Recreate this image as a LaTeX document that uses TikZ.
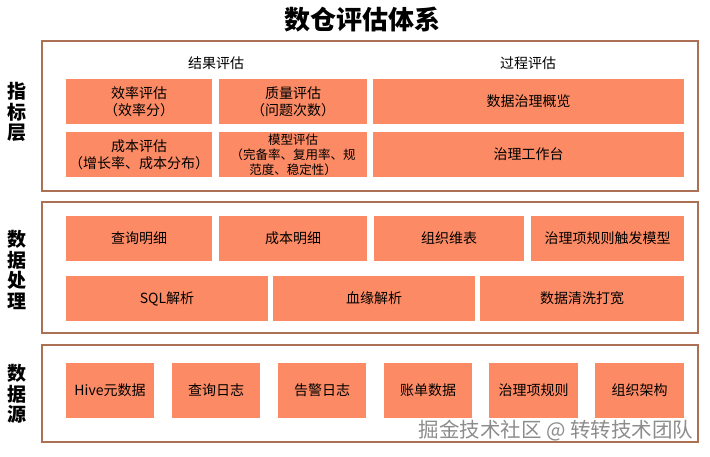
\documentclass[tikz,border=0pt]{standalone}
\usepackage{fontspec}
\newfontfamily\cjk{Noto Sans CJK SC}
\usepackage{tikz}
\usetikzlibrary{positioning}
\usepackage{xcolor}
\definecolor{boxc}{RGB}{252,138,100}
\definecolor{framec}{RGB}{172,112,84}

\begin{document}
\begin{tikzpicture}[x=1pt,y=-1pt,
    box/.style={fill=boxc,inner sep=0pt,align=center,font=\cjk\fontsize{14}{17}\selectfont},
    panel/.style={draw=framec,line width=1.8pt},
    side/.style={align=center,font=\cjk\bfseries\fontsize{19}{20.5}\selectfont},
    grp/.style={font=\cjk\fontsize{14}{17}\selectfont}]
    \useasboundingbox (0,0) rectangle (710,457);
    % title
    \node[font=\cjk\bfseries\fontsize{26}{28}\selectfont] (title) at (362,20) {数仓评估体系};
    % 指标层
    \draw[panel] (42,41) rectangle (698,191);
    \node[side] (zbc) at (17,112) {指\\标\\层};
    \node[grp] (jg) at (216,63) {结果评估};
    \node[grp] (gc) at (528,63) {过程评估};
    \node[box,minimum width=146pt,minimum height=45pt] (xl) at (139,101.5) {效率评估\\（效率分）};
    \node[box,minimum width=148pt,minimum height=45pt] (zl) at (293,101.5) {质量评估\\（问题次数）};
    \node[box,minimum width=311pt,minimum height=45pt] (gl) at (528.5,101.5) {数据治理概览};
    \node[box,minimum width=146pt,minimum height=45pt] (cb) at (139,154.5) {成本评估\\（增长率、成本分布）};
    \node[box,minimum width=148pt,minimum height=45pt,font=\cjk\fontsize{12.5}{15}\selectfont] (mx) at (293,154.5) {模型评估\\（完备率、复用率、规\\范度、稳定性）};
    \node[box,minimum width=311pt,minimum height=45pt] (gzt) at (528.5,154.5) {治理工作台};
    % 数据处理
    \draw[panel] (42,202) rectangle (698,333);
    \node[side] (clc) at (17,270) {数\\据\\处\\理};
    \node[box,minimum width=146pt,minimum height=45pt] (cxmx) at (139,238.5) {查询明细};
    \node[box,minimum width=148pt,minimum height=45pt] (cbmx) at (293,238.5) {成本明细};
    \node[box,minimum width=150pt,minimum height=45pt] (zzwb) at (449,238.5) {组织维表};
    \node[box,minimum width=153pt,minimum height=45pt] (cfmx) at (607.5,238.5) {治理项规则触发模型};
    \node[box,minimum width=202pt,minimum height=45pt] (sql) at (167,298.5) {SQL解析};
    \node[box,minimum width=202pt,minimum height=45pt] (xy) at (374,298.5) {血缘解析};
    \node[box,minimum width=204pt,minimum height=45pt] (qx) at (582,298.5) {数据清洗打宽};
    % 数据源
    \draw[panel] (42,345) rectangle (698,442);
    \node[side] (syc) at (17,394) {数\\据\\源};
    \node[box,minimum width=88pt,minimum height=55pt] (hive) at (110,390.5) {Hive元数据};
    \node[box,minimum width=88pt,minimum height=55pt] (cxrz) at (216,390.5) {查询日志};
    \node[box,minimum width=88pt,minimum height=55pt] (gjrz) at (322,390.5) {告警日志};
    \node[box,minimum width=88pt,minimum height=55pt] (zd) at (428,390.5) {账单数据};
    \node[box,minimum width=89pt,minimum height=55pt] (gzx) at (533.5,390.5) {治理项规则};
    \node[box,minimum width=89pt,minimum height=55pt] (zzjg) at (639.5,390.5) {组织架构};
    % watermark
    \node[anchor=east,text=black!45,font=\cjk\fontsize{20.5}{22}\selectfont] (wm) at (697,431) {掘金技术社区 @ 转转技术团队};
\end{tikzpicture}
\end{document}
